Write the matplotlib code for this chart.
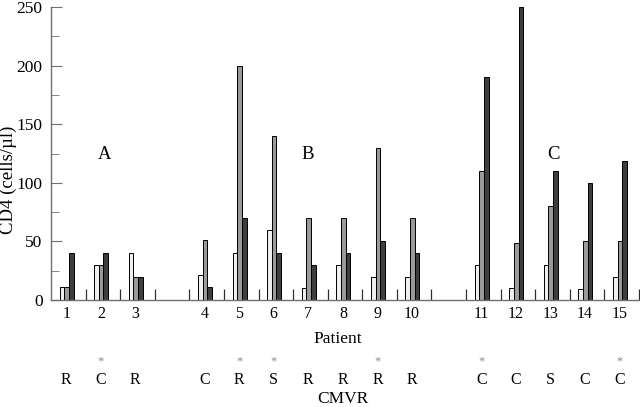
import matplotlib.pyplot as plt
import numpy as np

plt.rcParams["font.family"] = ["Liberation Serif", "DejaVu Serif"]

# patients in three groups, with an empty slot between groups
patients = ["1", "2", "3", None, "4", "5", "6", "7", "8", "9", "10", None,
            "11", "12", "13", "14", "15"]
cmvr = ["R", "C", "R", None, "C", "R", "S", "R", "R", "R", "R", None,
        "C", "C", "S", "C", "C"]
starred = [False, True, False, None, False, True, True, False, False, True, False,
           None, True, False, False, False, True]
cd4_first = [11, 30, 40, None, 21, 40, 60, 10, 30, 20, 20, None, 30, 10, 30, 9, 20]
cd4_second = [11, 30, 20, None, 51, 200, 140, 70, 70, 130, 70, None, 110, 49, 80, 50, 50]
cd4_third = [40, 40, 20, None, 11, 70, 40, 30, 40, 50, 40, None, 190, 250, 110, 100, 119]
group_labels = ["A", "B", "C"]
group_x = [1.56, 7.43, 14.54]

COLORS = ["#efefef", "#9a9a9a", "#3e3e3e"]
SPINE = "#707070"

fig = plt.figure(figsize=(6.4, 4.07), dpi=100)
ax = fig.add_axes([51 / 640, 1 - 300 / 407, 588 / 640, 293 / 407])

slots = [i for i, p in enumerate(patients) if p is not None]
centers = np.array(slots) + 0.45
width = 0.135
for k, vals in enumerate([cd4_first, cd4_second, cd4_third]):
    h = [vals[i] for i in slots]
    ax.bar(centers + (k - 1) * width, h, width, color=COLORS[k],
           edgecolor="black", linewidth=0.7)

for lab, gx in zip(group_labels, group_x):
    ax.text(gx, 124, lab, ha="center", va="center", fontsize=13.5)

ax.set_xlim(0, 17)
ax.set_ylim(0, 250)
ax.set_yticks(np.arange(0, 251, 50))
ax.set_yticks(np.arange(25, 250, 50), minor=True)
ax.set_xticks(np.arange(1, 18))
ax.set_xticklabels([])
ax.tick_params(axis="y", which="major", direction="in", length=8, color=SPINE,
               labelsize=12.5, pad=6)
ax.tick_params(axis="y", which="minor", direction="in", length=6, color=SPINE)
ax.tick_params(axis="x", which="major", direction="in", length=8, color="#303030",
               width=0.9)
fig.text(8 / 640, 1 - 180 / 407, "CD4 (cells/\u00b5l)", rotation=90,
         ha="center", va="center", fontsize=13.5)
for s in ["top", "right"]:
    ax.spines[s].set_visible(False)
for s in ["left", "bottom"]:
    ax.spines[s].set_color(SPINE)
    ax.spines[s].set_linewidth(1.0)

tr = ax.get_xaxis_transform()
h_ax = 293.0
for i in slots:
    ax.text(i + 0.44, -14 / h_ax, patients[i], transform=tr, ha="center",
            va="center", fontsize=11.5)
    ax.text(i + 0.44, -80 / h_ax, cmvr[i], transform=tr, ha="center",
            va="center", fontsize=11.5)
    if starred[i]:
        ax.text(i + 0.44, -61 / h_ax, "*", transform=tr, ha="center",
                va="center", fontsize=9, color="#8a8a8a")
ax.text(8.3, -39 / h_ax, "Patient", transform=tr, ha="center", va="center",
        fontsize=12.5)
ax.text(8.45, -99 / h_ax, "CMVR", transform=tr, ha="center", va="center",
        fontsize=12.5)

fig.savefig("out.png", dpi=100)
